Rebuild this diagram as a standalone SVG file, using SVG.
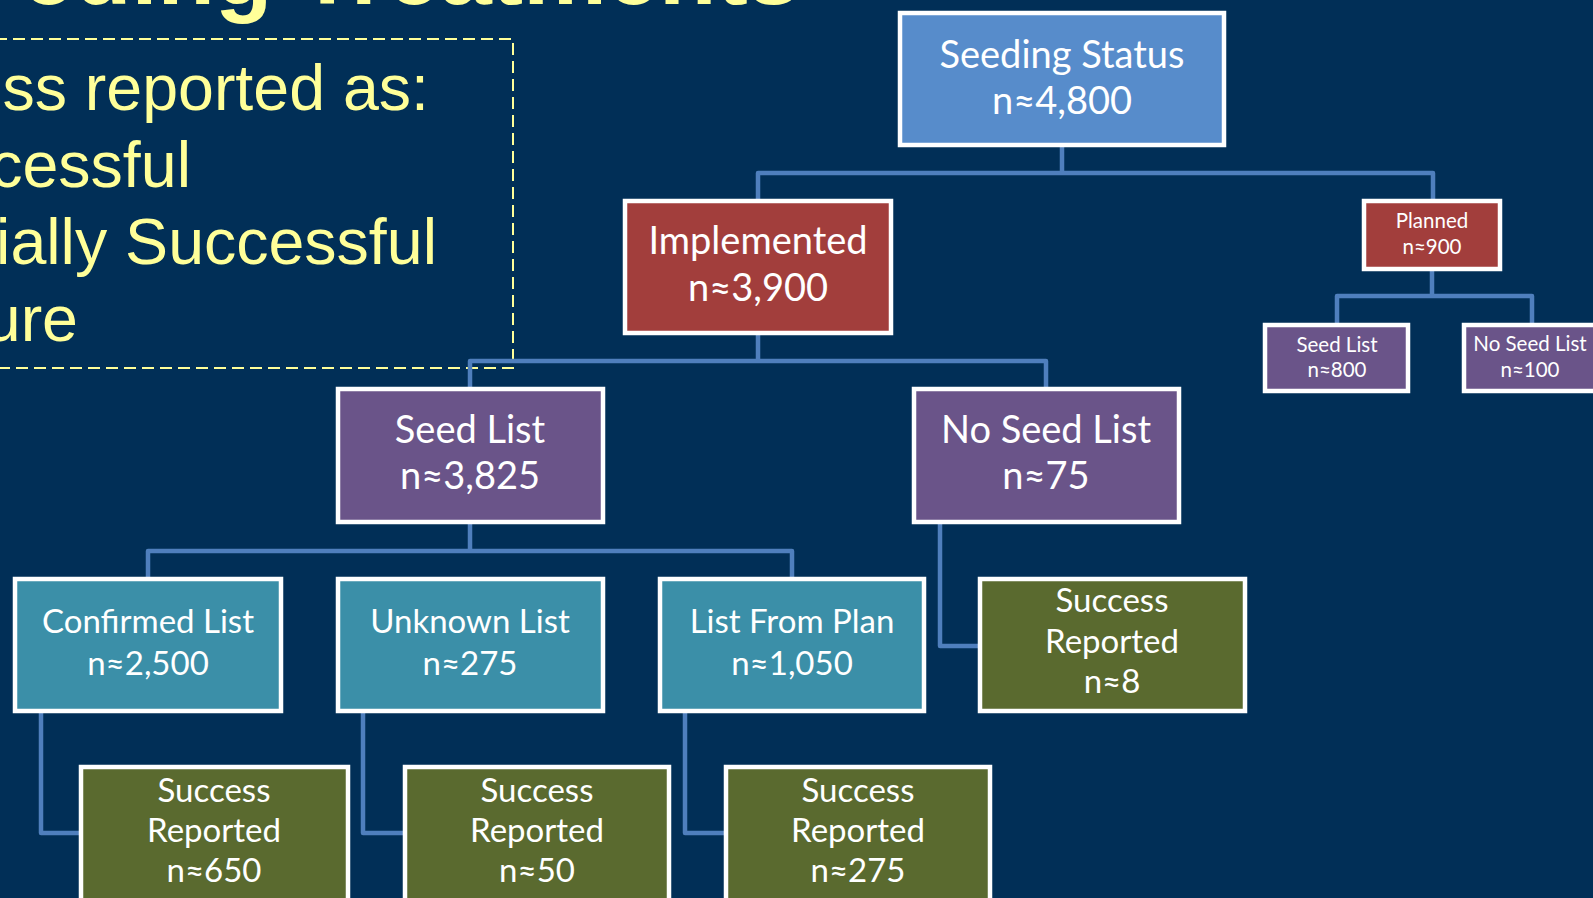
<svg xmlns="http://www.w3.org/2000/svg" width="1593" height="898" viewBox="0 0 1593 898">
<style>
.bg{fill:#012f57}
.box{stroke:#ffffff;stroke-width:4.5}
.blue{fill:#578ccb}
.red{fill:#a23e3c}
.purple{fill:#6a5489}
.teal{fill:#3b8fa8}
.green{fill:#5a6a2f}
.t{font-family:Lato,"Liberation Sans",sans-serif;fill:#ffffff;text-anchor:middle}
.big{font-size:38px}
.mid{font-size:33px}
.sm{font-size:20.5px}
.conn{fill:none;stroke:#4f7fbd;stroke-width:4.5;stroke-linejoin:round}
.yel{font-family:"Liberation Sans",Arial,sans-serif;fill:#ffff99}
</style>
<rect class="bg" x="0" y="0" width="1593" height="898"/>
<text class="yel" x="800" y="4" font-size="94" font-weight="bold" text-anchor="end">eding Treatments</text>
<g id="note">
<path d="M-5,39 H513 V368 H-5" fill="none" stroke="#ffff99" stroke-width="2" stroke-dasharray="12,6"/>
<text class="yel" font-size="64.5" text-anchor="end" x="429" y="110">ss reported as:</text>
<text class="yel" font-size="64.5" text-anchor="end" x="191" y="187">cessful</text>
<text class="yel" font-size="64.5" text-anchor="end" x="437" y="264">ially Successful</text>
<text class="yel" font-size="64.5" text-anchor="end" x="78" y="341">ure</text>
</g>
<g id="connectors">
<path class="conn" d="M1062,147 V173 M758,199 V173 H1433 V199"/>
<path class="conn" d="M758,335 V361 M470,387 V361 H1046 V387"/>
<path class="conn" d="M1432,271 V296 M1337,323 V296 H1532 V323"/>
<path class="conn" d="M470,524 V551 M148,577 V551 H792 V577"/>
<path class="conn" d="M940,524 V646 H978"/>
<path class="conn" d="M41,713 V833 H79 M363,713 V833 H403 M685,713 V833 H724"/>
</g>
<g id="seeding-status">
<rect class="box blue" x="900" y="13" width="324" height="132"/>
<text class="t big" x="1062" y="68">Seeding Status</text>
<text class="t big" x="1062" y="114">n≈4,800</text>
</g>
<g id="implemented">
<rect class="box red" x="625" y="201" width="266" height="132"/>
<text class="t big" x="758" y="254">Implemented</text>
<text class="t big" x="758" y="301">n≈3,900</text>
</g>
<g id="planned">
<rect class="box red" x="1364" y="201" width="136" height="68"/>
<text class="t sm" x="1432" y="228">Planned</text>
<text class="t sm" x="1432" y="254">n≈900</text>
</g>
<g id="planned-seed-list">
<rect class="box purple" x="1265" y="325" width="143" height="66"/>
<text class="t sm" x="1337" y="352">Seed List</text>
<text class="t sm" x="1337" y="377">n≈800</text>
</g>
<g id="planned-no-seed-list">
<rect class="box purple" x="1464" y="325" width="143" height="66"/>
<text class="t sm" x="1530" y="351">No Seed List</text>
<text class="t sm" x="1530" y="377">n≈100</text>
</g>
<g id="seed-list">
<rect class="box purple" x="338" y="389" width="265" height="133"/>
<text class="t big" x="470" y="443">Seed List</text>
<text class="t big" x="470" y="489">n≈3,825</text>
</g>
<g id="no-seed-list">
<rect class="box purple" x="914" y="389" width="265" height="133"/>
<text class="t big" x="1046" y="443">No Seed List</text>
<text class="t big" x="1046" y="489">n≈75</text>
</g>
<g id="confirmed-list">
<rect class="box teal" x="15" y="579" width="266" height="132"/>
<text class="t mid" x="148" y="633">Confirmed List</text>
<text class="t mid" x="148" y="675">n≈2,500</text>
</g>
<g id="unknown-list">
<rect class="box teal" x="338" y="579" width="265" height="132"/>
<text class="t mid" x="470" y="633">Unknown List</text>
<text class="t mid" x="470" y="675">n≈275</text>
</g>
<g id="list-from-plan">
<rect class="box teal" x="660" y="579" width="264" height="132"/>
<text class="t mid" x="792" y="633">List From Plan</text>
<text class="t mid" x="792" y="675">n≈1,050</text>
</g>
<g id="success-8">
<rect class="box green" x="980" y="579" width="265" height="132"/>
<text class="t mid" x="1112" y="612">Success</text>
<text class="t mid" x="1112" y="653">Reported</text>
<text class="t mid" x="1112" y="693">n≈8</text>
</g>
<g id="success-650">
<rect class="box green" x="81" y="767" width="267" height="150"/>
<text class="t mid" x="214" y="802">Success</text>
<text class="t mid" x="214" y="842">Reported</text>
<text class="t mid" x="214" y="882">n≈650</text>
</g>
<g id="success-50">
<rect class="box green" x="405" y="767" width="264" height="150"/>
<text class="t mid" x="537" y="802">Success</text>
<text class="t mid" x="537" y="842">Reported</text>
<text class="t mid" x="537" y="882">n≈50</text>
</g>
<g id="success-275">
<rect class="box green" x="726" y="767" width="264" height="150"/>
<text class="t mid" x="858" y="802">Success</text>
<text class="t mid" x="858" y="842">Reported</text>
<text class="t mid" x="858" y="882">n≈275</text>
</g>
</svg>
